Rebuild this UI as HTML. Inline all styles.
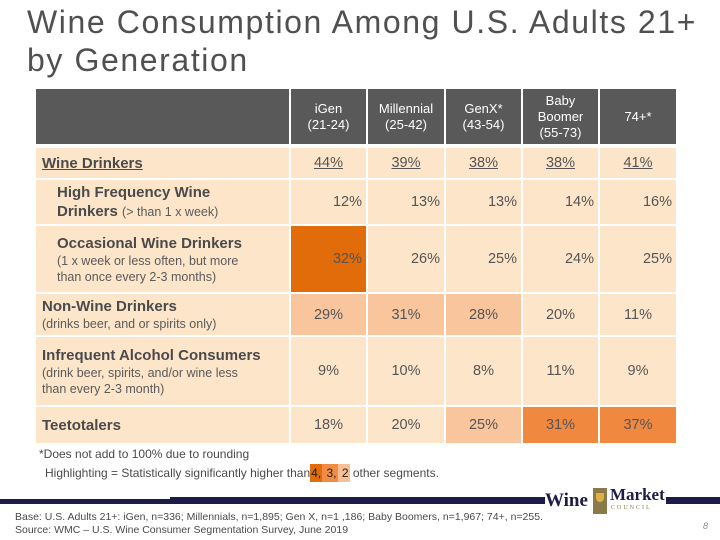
<!DOCTYPE html>
<html><head><meta charset="utf-8"><style>
body{margin:0;width:720px;height:540px;position:relative;background:#fff;font-family:"Liberation Sans",sans-serif;overflow:hidden;color:#4a4a4a}
.a{position:absolute;box-sizing:border-box}
.title{left:27px;font-size:32px;letter-spacing:1.6px;color:#505050;white-space:nowrap}
.hdr{background:#595959;color:#fff;font-size:13px;text-align:center;display:flex;align-items:center;justify-content:center;line-height:16px}
.cell{background:#fde5ca;font-size:14.5px;color:#555;display:flex;align-items:center;justify-content:center}
.lab{background:#fde5ca;color:#4a4a4a;padding-left:6px;display:flex;flex-direction:column;justify-content:center}
.b{font-weight:bold;font-size:15px;line-height:19px}
.s{font-size:12.5px;line-height:16px;color:#5a5a5a}
</style></head><body>
<div class="a title" style="top:4px">Wine Consumption Among U.S. Adults 21+</div>
<div class="a title" style="top:42px">by Generation</div>
<div class="a hdr" style="left:36px;top:89px;width:253px;height:55px"></div>
<div id="tbl"></div>
<div class="a lab" style="left:36px;top:148px;width:253px;height:30px"><span class="b" style="text-decoration:underline">Wine Drinkers</span></div>
<div class="a lab" style="left:36px;top:180px;width:253px;height:44px;padding-left:21px"><span class="b">High Frequency Wine<br>Drinkers <span class="s" style="font-weight:normal">(&gt; than 1 x week)</span></span></div>
<div class="a lab" style="left:36px;top:226px;width:253px;height:66px;padding-left:21px"><span class="b">Occasional Wine Drinkers</span><span class="s">(1 x week or less often, but more<br>than once every 2-3 months)</span></div>
<div class="a lab" style="left:36px;top:294px;width:253px;height:41px"><span class="b">Non-Wine Drinkers</span><span class="s">(drinks beer, and or spirits only)</span></div>
<div class="a lab" style="left:36px;top:337px;width:253px;height:68px"><span class="b">Infrequent Alcohol Consumers</span><span class="s">(drink beer, spirits, and/or wine less<br>than every 2-3 month)</span></div>
<div class="a lab" style="left:36px;top:407px;width:253px;height:36px"><span class="b">Teetotalers</span></div>
<div class="a" style="left:39px;top:447px;font-size:12px">*Does not add to 100% due to rounding</div>
<div class="a" style="left:45px;top:466px;font-size:12px;white-space:nowrap">Highlighting = Statistically significantly higher than<span style="background:#e26b0a;padding:2px 1px;color:#222">4,</span><span style="background:#f28c42;padding:2px 1px;color:#222"> 3,</span><span style="background:#f8bf93;padding:2px 1px;color:#222"> 2</span> other segments.</div>
<div class="a" style="left:0;top:499px;width:170px;height:5px;background:#1c1c46"></div>
<div class="a" style="left:170px;top:497px;width:375px;height:7px;background:#1c1c46"></div>
<div class="a" style="left:666px;top:497px;width:54px;height:7px;background:#1c1c46"></div>
<div class="a" style="left:545px;top:490px;font-family:'Liberation Serif',serif;font-weight:bold;font-size:19px;color:#1c1c46">Wine</div>
<div class="a" style="left:593px;top:488px;width:14px;height:26px;background:#8a7a4a"><div style="margin:5px 3px;width:8px;height:9px;background:#e0b040;border-radius:0 0 4px 4px"></div></div>
<div class="a" style="left:610px;top:485px;font-family:'Liberation Serif',serif;font-weight:bold;font-size:17px;color:#1c1c46">Market</div>
<div class="a" style="left:611px;top:505px;font-family:'Liberation Serif',serif;font-size:6px;letter-spacing:2px;color:#8a7a4a">COUNCIL</div>
<div class="a" style="left:15px;top:511px;font-size:10.5px;line-height:13px">Base: U.S. Adults 21+: iGen, n=336; Millennials, n=1,895; Gen X, n=1 ,186; Baby Boomers, n=1,967; 74+, n=255.<br>Source: WMC – U.S. Wine Consumer Segmentation Survey, June 2019</div>
<div class="a" style="left:703px;top:521px;font-size:9px;font-style:italic;color:#888">8</div>
<script>
const generations=["iGen<br>(21-24)","Millennial<br>(25-42)","GenX*<br>(43-54)","Baby<br>Boomer<br>(55-73)","74+*"];
const wineDrinkers=[44,39,38,38,41];
const highFreq=[12,13,13,14,16];
const occasional=[32,26,25,24,25];
const nonWine=[29,31,28,20,11];
const infrequent=[9,10,8,11,9];
const teetotalers=[18,20,25,31,37];
const occLevel=[4,0,0,0,0];
const nonWineLevel=[2,2,2,0,0];
const teeLevel=[0,0,2,3,3];
const colX=[291,368,446,523,600],colW=[75,76,75,75,76];
const levelColor={0:"#fde5ca",2:"#f8c59c",3:"#f0893f",4:"#e26b0a"};
const rows=[
 {name:"wine-drinkers",vals:wineDrinkers,top:148,h:30,lev:[0,0,0,0,0],u:true},
 {name:"high-frequency",vals:highFreq,top:180,h:44,lev:[0,0,0,0,0],right:true},
 {name:"occasional",vals:occasional,top:226,h:66,lev:occLevel,right:true},
 {name:"non-wine",vals:nonWine,top:294,h:41,lev:nonWineLevel},
 {name:"infrequent",vals:infrequent,top:337,h:68,lev:[0,0,0,0,0]},
 {name:"teetotalers",vals:teetotalers,top:407,h:36,lev:teeLevel}];
const t=document.getElementById('tbl');
generations.forEach((g,i)=>{
 const d=document.createElement('div');d.className='a hdr';
 d.style.cssText=`left:${colX[i]}px;top:89px;width:${colW[i]}px;height:55px`;
 d.innerHTML=g;
 
 
 t.appendChild(d);
});
rows.forEach(r=>{r.vals.forEach((v,i)=>{
 const d=document.createElement('div');d.className='a cell';
 d.style.cssText=`left:${colX[i]}px;top:${r.top}px;width:${colW[i]}px;height:${r.h}px;background:${levelColor[r.lev[i]]}`+(r.right?';justify-content:flex-end;padding-right:4px':'')+(r.u?';text-decoration:underline':'');
 d.textContent=v+'%';
 
 
 t.appendChild(d);
});});
</script>
</body></html>
